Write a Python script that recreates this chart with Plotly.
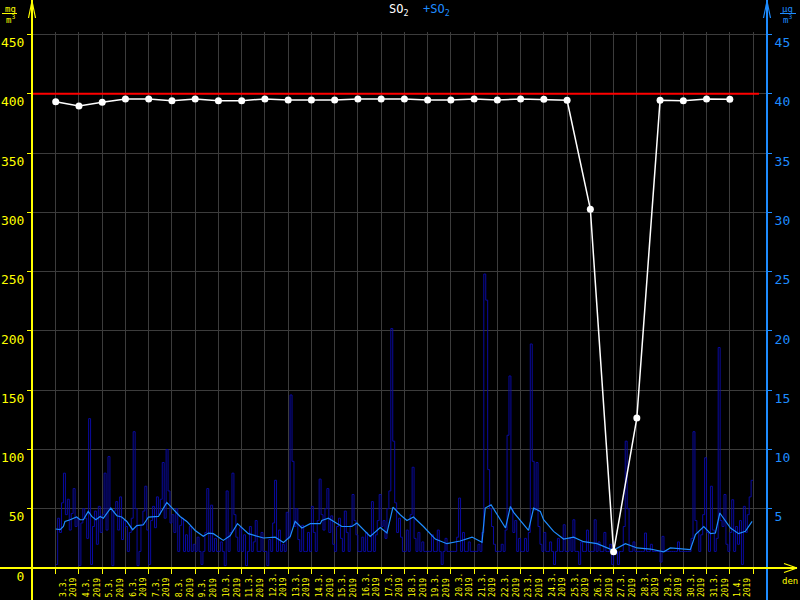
import plotly.graph_objects as go

# ---------------- data ----------------
date_labels = ["3.3.", "4.3.", "5.3.", "6.3.", "7.3.", "8.3.", "9.3.", "10.3.", "11.3.", "12.3.",
               "13.3.", "14.3.", "15.3.", "16.3.", "17.3.", "18.3.", "19.3.", "20.3.", "21.3.", "22.3.",
               "23.3.", "24.3.", "25.3.", "26.3.", "27.3.", "28.3.", "29.3.", "30.3.", "31.3.", "1.4."]
year_label = "2019"

# daily values (mg/m3), one per day starting 3.3.
daily_mg = [393.4, 389.8, 392.9, 395.7, 395.7, 394.3, 395.7, 394.3, 394.3, 395.7,
            394.8, 394.8, 394.8, 395.7, 395.7, 395.7, 394.8, 394.8, 395.7, 394.8,
            395.7, 395.4, 394.6, 302.7, 13.7, 126.5, 394.6, 394.3, 395.7, 395.4]
limit_mg = 400

# 2-hourly values (ug/m3), 12 per day starting 3.3. 00:00
hourly_ug = [
    0.3, 4.2, 3.0, 5.5, 8.0, 4.5, 5.8, 3.2, 4.6, 6.7, 3.5, 4.2,
    0.2, 3.8, 5.0, 4.2, 2.5, 12.6, 0.3, 3.5, 4.8, 2.0, 5.2, 3.0,
    4.5, 8.0, 3.2, 9.4, 5.0, 0.2, 4.8, 5.6, 3.2, 6.0, 2.4, 4.0,
    3.5, 1.4, 3.0, 4.2, 11.5, 5.0, 0.2, 1.4, 3.6, 4.8, 6.9, 3.2,
    0.3, 4.0, 5.2, 3.4, 6.0, 4.5, 5.8, 8.9, 4.2, 10.0, 6.5, 3.8,
    4.5, 3.0, 5.0, 1.4, 3.6, 4.2, 1.4, 2.8, 1.4, 3.5, 1.4, 2.0,
    1.4, 2.6, 1.4, 0.3, 1.4, 3.0, 6.7, 1.4, 5.3, 1.4, 2.5, 1.4,
    1.4, 2.2, 1.4, 0.2, 6.5, 1.4, 3.0, 8.0, 4.5, 2.6, 1.4, 3.4,
    1.4, 2.8, 0.2, 1.4, 3.5, 1.4, 2.2, 4.0, 1.4, 1.4, 3.0, 1.4,
    1.4, 0.2, 2.4, 1.4, 3.8, 7.4, 1.4, 3.2, 1.4, 2.0, 1.4, 4.7,
    2.5, 14.6, 9.0, 3.5, 5.0, 2.4, 1.4, 3.6, 1.4, 1.4, 3.0, 1.4,
    5.2, 3.0, 1.4, 4.0, 7.5, 4.5, 3.2, 5.0, 6.7, 3.0, 4.4, 2.0,
    1.4, 3.5, 4.2, 2.5, 1.4, 4.8, 3.0, 1.4, 3.6, 6.2, 4.0, 2.8,
    1.4, 1.4, 2.6, 1.4, 3.0, 1.4, 1.4, 5.6, 1.4, 2.8, 4.0, 6.2,
    3.5, 4.0, 2.5, 5.0, 6.5, 20.2, 10.7, 5.5, 3.0, 4.2, 2.6, 1.4,
    1.4, 3.2, 1.4, 4.5, 8.5, 2.5, 1.4, 3.0, 1.4, 2.2, 1.4, 1.4,
    1.4, 1.4, 2.8, 1.4, 1.4, 3.2, 1.4, 0.3, 1.4, 2.5, 1.4, 1.4,
    1.4, 1.4, 1.4, 2.6, 5.9, 1.4, 3.0, 1.4, 1.4, 2.2, 1.4, 1.4,
    1.4, 1.4, 2.0, 1.4, 3.0, 24.8, 22.6, 8.3, 5.0, 3.5, 2.0, 1.4,
    1.4, 1.4, 2.0, 1.4, 3.2, 11.2, 16.2, 5.0, 3.0, 4.0, 1.4, 2.5,
    1.4, 1.4, 2.5, 1.4, 3.0, 18.9, 9.0, 4.9, 8.9, 3.5, 2.0, 1.4,
    3.0, 1.4, 1.4, 2.2, 1.4, 0.3, 1.4, 2.5, 1.4, 1.4, 3.65, 1.4,
    1.4, 2.5, 1.4, 4.07, 1.4, 1.4, 0.3, 2.2, 1.4, 1.4, 3.2, 1.4,
    1.4, 1.4, 4.07, 1.4, 2.2, 1.4, 1.4, 3.0, 1.4, 1.4, 2.0, 0.3,
    1.4, 1.4, 0.3, 1.4, 1.4, 3.5, 10.7, 5.0, 1.4, 1.4, 2.2, 1.4,
    1.4, 1.4, 1.4, 1.4, 2.95, 1.4, 1.4, 2.0, 1.4, 1.4, 1.4, 1.4,
    0.5, 2.67, 1.4, 1.4, 1.4, 1.4, 1.4, 1.4, 1.4, 2.2, 1.4, 1.4,
    1.4, 1.4, 1.4, 1.4, 2.5, 11.5, 4.0, 3.0, 1.4, 2.8, 4.5, 9.3,
    3.0, 1.4, 6.9, 3.2, 1.4, 2.5, 18.6, 4.0, 3.5, 6.2, 2.0, 1.4,
    3.0, 5.76, 1.4, 3.5, 2.0, 4.0, 0.3, 5.2, 3.0, 4.5, 6.0, 7.4,
]
hourly_step_h = 2

# running average (ug/m3) read at these day positions (0 = 3.3. 00:00)
avg_day = [0.0, 0.19, 0.33, 0.40, 0.62, 0.90, 1.05, 1.19, 1.40, 1.55, 1.73, 1.91, 2.05, 2.37, 2.63,
           2.84, 3.06, 3.31, 3.49, 3.77, 3.99, 4.42, 4.78, 4.99, 5.35, 5.64, 6.00, 6.35, 6.57, 6.78,
           7.21, 7.50, 7.82, 8.29, 8.94, 9.44, 9.80, 10.09, 10.30, 10.59, 10.95, 11.38, 11.45, 11.73,
           11.95, 12.31, 12.74, 12.96, 13.53, 13.96, 14.25, 14.51, 14.82, 15.11, 15.39, 15.82, 16.33,
           16.83, 17.40, 17.91, 18.34, 18.48, 18.73, 19.35, 19.56, 19.70, 20.34, 20.56, 20.85, 20.99,
           21.42, 21.85, 22.28, 22.71, 23.29, 23.98, 24.51, 25.01, 25.58, 26.16, 26.44, 27.30, 27.52,
           27.88, 28.17, 28.38, 28.57, 29.03, 29.38, 29.67, 29.96]
avg_ug = [3.29, 3.23, 3.5, 3.93, 4.07, 4.3, 4.07, 4.07, 4.77, 4.35, 4.07, 4.35, 4.2, 5.06, 4.41,
          4.3, 3.93, 3.23, 3.57, 3.65, 4.3, 4.35, 5.53, 5.06, 4.35, 3.93, 3.17, 2.67, 2.95, 2.9,
          2.33, 2.72, 3.74, 2.9, 2.53, 2.6, 2.16, 2.67, 3.93, 3.37, 3.74, 3.74, 4.01, 4.2,
          3.93, 3.5, 3.5, 3.79, 2.67, 3.42, 2.95, 5.14, 4.49, 4.01, 4.3, 3.5, 2.44,
          2.05, 2.28, 2.61, 2.16, 5.06, 5.34, 3.37, 5.19, 4.69, 3.17, 5.06, 4.77, 4.07,
          3.09, 2.44, 2.6, 2.22, 2.05, 1.49, 2.05, 1.69, 1.6, 1.37, 1.69, 1.55, 2.81,
          3.5, 2.9, 2.95, 4.64, 3.37, 2.9, 3.09, 3.93]

left_ticks = list(range(0, 451, 50))
right_ticks = list(range(5, 46, 5))

# ---------------- styling ----------------
W, H = 800, 600
ML, MR, MT, MB = 32, 33, 32, 32
PW, PH = W - ML - MR, H - MT - MB
YELLOW = "#ffff00"
BLUE = "#1e8cff"
NAVY = "#0a0aa0"
GRID = "#3c3c3c"
FONT = "DejaVu Sans Mono"
X_RANGE = [-1.02, 30.6]


def px(x):
    return (x - ML) / PW


def py(y):
    return (H - MB - y) / PH


n_days = len(date_labels)
hx = [i * hourly_step_h / 24 for i in range(len(hourly_ug))] + [n_days]
hy = hourly_ug + [hourly_ug[-1]]

fig = go.Figure()
fig.add_trace(go.Scatter(x=hx, y=hy, mode="lines", line=dict(color=NAVY, width=1, shape="hv"),
                         yaxis="y", hoverinfo="skip"))
fig.add_trace(go.Scatter(x=avg_day, y=avg_ug, mode="lines", line=dict(color=BLUE, width=1.2),
                         yaxis="y", hoverinfo="skip"))
fig.add_trace(go.Scatter(x=list(range(n_days)), y=daily_mg, mode="lines+markers",
                         line=dict(color="white", width=1.5),
                         marker=dict(color="white", size=7), yaxis="y2", hoverinfo="skip"))

shapes = []


def seg(x0, y0, x1, y1, color, width=2, yref="paper"):
    shapes.append(dict(type="line", xref="paper", yref=yref, x0=x0, y0=y0, x1=x1, y1=y1,
                       line=dict(color=color, width=width), layer="above"))


# limit line
seg(px(32), limit_mg, px(759), limit_mg, "#ff0000", 2, yref="y2")
# left axis + arrow
seg(px(32), py(600), px(32), py(0), YELLOW, 2)
seg(px(32), py(1), px(28.5), py(18), YELLOW, 1.2)
seg(px(32), py(1), px(35.5), py(18), YELLOW, 1.2)
# right axis + arrow
seg(px(767), py(600), px(767), py(0), BLUE, 2)
seg(px(767), py(1), px(763.5), py(18), BLUE, 1.2)
seg(px(767), py(1), px(770.5), py(18), BLUE, 1.2)
# x axis + arrow
seg(px(0), py(568), px(797), py(568), YELLOW, 2)
seg(px(797), py(568), px(784), py(563.5), YELLOW, 1.2)
seg(px(797), py(568), px(784), py(572.5), YELLOW, 1.2)
# unit fraction bars
seg(px(2), py(13.5), px(17), py(13.5), YELLOW, 1)
seg(px(780), py(13.5), px(796), py(13.5), BLUE, 1)

annotations = []


def note(x, y, text, color, size, **kw):
    d = dict(xref="paper", yref="paper", x=px(x), y=py(y), text=text, showarrow=False,
             font=dict(family=FONT, size=size, color=color), xanchor="center", yanchor="middle")
    d.update(kw)
    annotations.append(d)


note(419, 10, "SO<sub>2</sub>  <span style='color:%s'>+SO<sub>2</sub></span>" % BLUE, "white", 12)
note(10, 8.5, "mg", YELLOW, 9)
note(10, 19, "m<sup>3</sup>", YELLOW, 9)
note(788, 8.5, "µg", BLUE, 9)
note(788, 19, "m<sup>3</sup>", BLUE, 9)
note(790, 580.5, "den", YELLOW, 9)

for i, lab in enumerate(date_labels):
    annotations.append(dict(xref="x", yref="paper", x=i + 0.55, y=py(599),
                            text=lab + "<br>" + year_label, showarrow=False, textangle=-90,
                            align="left", xanchor="center", yanchor="bottom",
                            font=dict(family=FONT, size=8, color=YELLOW)))

fig.update_layout(
    width=W, height=H, autosize=False,
    margin=dict(l=ML, r=MR, t=MT, b=MB, pad=0, autoexpand=False),
    paper_bgcolor="black", plot_bgcolor="black",
    showlegend=False, hovermode=False,
    shapes=shapes, annotations=annotations,
    xaxis=dict(range=X_RANGE, tickmode="array", tickvals=list(range(n_days + 1)),
               showticklabels=False, ticks="outside", ticklen=5, tickcolor=YELLOW, tickwidth=1,
               showgrid=True, gridcolor=GRID, gridwidth=1, zeroline=False, showline=False,
               automargin=False, fixedrange=True),
    yaxis=dict(range=[0, 45.22], side="right", tickmode="array", tickvals=right_ticks,
               ticks="outside", ticklen=4, tickcolor=BLUE, tickwidth=1,
               tickfont=dict(family=FONT, size=13, color=BLUE), ticklabelshift=8,
               showgrid=True, gridcolor=GRID, gridwidth=1, zeroline=False, showline=False,
               automargin=False),
    yaxis2=dict(range=[0, 452.2], side="left", overlaying="y", tickmode="array",
                tickvals=left_ticks, ticks="outside", ticklen=4, tickcolor=YELLOW, tickwidth=1,
                tickfont=dict(family=FONT, size=13, color=YELLOW), ticklabelshift=8,
                showgrid=False, zeroline=False, showline=False, automargin=False),
)

fig.write_html("out.html", config={"displayModeBar": False},
               post_script="document.body.style.margin='0';document.body.style.overflow='hidden';")
